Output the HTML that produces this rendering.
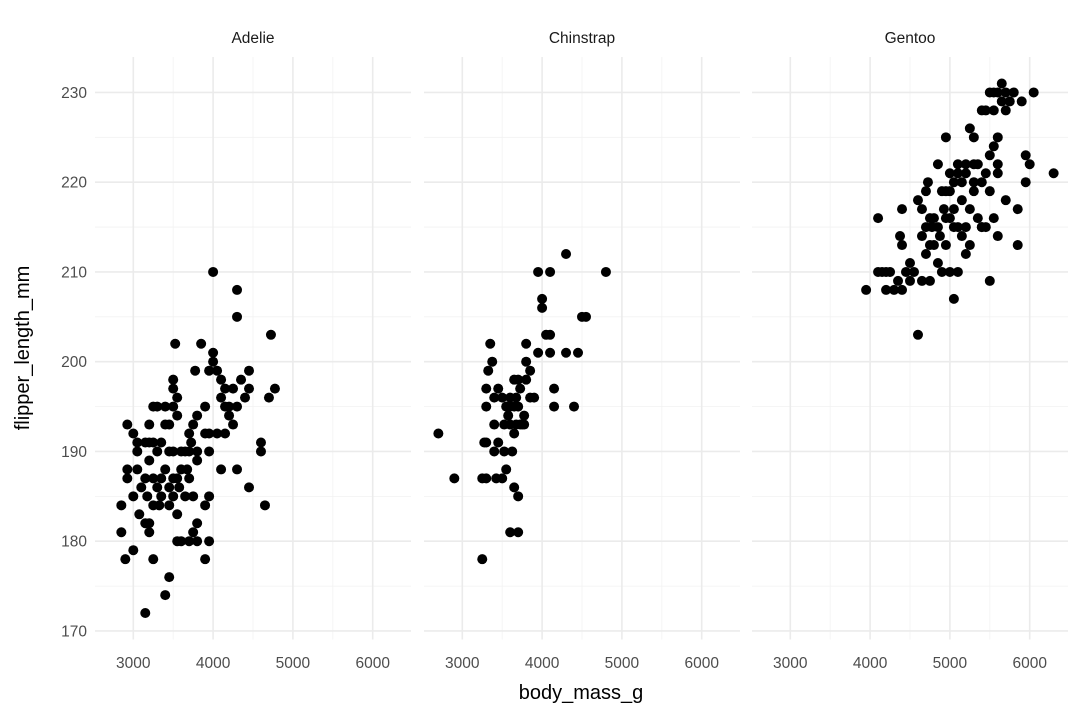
<!DOCTYPE html>
<html><head><meta charset="utf-8"><style>
html,body{margin:0;padding:0;background:#fff;}
svg{display:block;font-family:"Liberation Sans",Arial,sans-serif;}
</style></head><body>
<svg id="chart" width="1080" height="720"></svg>
<script>
const species = ["Adelie","Chinstrap","Gentoo"];
const xTicks = [3000,4000,5000,6000];
const yTicks = [170,180,190,200,210,220,230];
const adelieMass = [2850,2850,2900,2925,2925,2925,3000,3000,3000,3050,3050,3050,3075,3100,3150,3150,3150,3150,3175,3200,3200,3200,3200,3250,3250,3250,3250,3300,3300,3300,3325,3350,3350,3400,3400,3400,3400,3450,3450,3450,3450,3500,3500,3500,3500,3525,3550,3550,3550,3550,3550,3575,3600,3600,3650,3650,3700,3700,3700,3725,3750,3750,3775,3800,3800,3800,3800,3850,3900,3900,3950,3950,3950,3950,4000,4000,4000,4050,4050,4100,4100,4150,4200,4200,4250,4250,4300,4300,4300,4350,4400,4450,4450,4600,4600,4650,4700,4725,4775,4300,3900,3500,3200,3700,3600,3800,3450,3250,3350,3750,3900,4100,4150,3675,3500,3950,4450,4150];
const adelieFlipper = [184,181,178,188,187,193,192,185,179,191,190,188,183,186,191,187,182,172,185,181,182,189,193,195,178,191,187,195,186,190,184,187,191,195,193,174,188,176,184,193,186,198,197,185,190,202,196,194,180,187,183,186,180,190,190,185,190,187,180,191,181,193,199,194,190,182,180,202,195,178,185,180,190,192,210,201,200,199,192,188,196,197,195,194,193,197,208,205,188,198,196,186,199,191,190,184,196,203,197,195,192,187,191,192,188,189,190,184,185,185,184,198,192,188,195,199,197,195];
const chinMass = [2700,2900,3250,3250,3300,3275,3300,3300,3325,3350,3375,3400,3400,3450,3450,3500,3525,3550,3550,3600,3600,3600,3650,3650,3650,3675,3700,3700,3700,3725,3750,3775,3800,3800,3850,3900,3950,3950,4000,4000,4050,4100,4100,4100,4150,4150,4300,4300,4400,4450,4500,4550,4800,3675,3725,3525,3775,3400,3600,3650,3500,3625,3800,3700,3575,3425,3300,3850];
const chinFlipper = [192,187,187,178,187,191,197,195,199,202,200,190,193,197,191,196,190,195,188,196,193,181,198,195,186,193,181,185,198,197,193,194,202,198,199,196,210,201,207,206,203,210,201,203,197,195,212,201,195,201,205,205,210,196,193,193,193,196,195,192,187,190,200,195,194,187,191,196];
const gentooMass = [3950,4100,4100,4150,4200,4200,4250,4300,4350,4375,4400,4400,4400,4450,4500,4500,4550,4600,4600,4650,4650,4700,4700,4700,4725,4750,4750,4750,4775,4800,4850,4850,4875,4900,4900,4950,4950,5000,5000,5050,5050,5050,5100,5100,5150,5200,5250,5250,5300,5300,5350,5400,5400,5400,5450,5450,5500,5500,5550,5550,5550,5600,5600,5650,5650,5700,5700,5750,5800,5850,5850,5900,5950,6000,6050,6300,5550,5600,5000,5150,5200,5100,5300,5350,5200,4925,4850,5500,5600,5950,5450,5250,5150,4650,4950,5100,5400,5000,5300,4800,5700,5500,5200,5600,4950,5050];
const gentooFlipper = [208,216,210,210,210,208,210,208,209,214,217,213,208,210,211,209,210,203,218,214,209,219,215,212,220,216,213,209,215,216,222,215,214,219,210,225,216,221,219,220,207,215,221,215,218,215,226,213,220,225,222,228,220,215,228,221,219,209,224,216,228,222,225,231,229,230,218,229,230,217,213,229,223,222,230,221,230,230,210,214,212,222,222,216,221,217,211,223,221,220,215,217,220,217,219,210,215,216,219,213,228,230,222,214,213,217];
const massSeries = [adelieMass, chinMass, gentooMass];
const flipSeries = [adelieFlipper, chinFlipper, gentooFlipper];

const NS = "http://www.w3.org/2000/svg";
const svg = document.getElementById("chart");
const panelLeft = [95, 424, 752], panelW = 316;
const xMin = 2520, xMax = 6480, yMin = 169.05, yMax = 233.95, plotTop = 57, plotBottom = 639.5;
function xs(p, v){ return panelLeft[p] + (v - xMin) / (xMax - xMin) * panelW; }
function ys(v){ return plotBottom - (v - yMin) / (yMax - yMin) * (plotBottom - plotTop); }
function mk(tag, attrs, parent){ const e = document.createElementNS(NS, tag); for (const k in attrs) e.setAttribute(k, attrs[k]); (parent||svg).appendChild(e); return e; }

species.forEach((sp, p) => {
  const g = mk("g", {});
  
  
  const x0 = panelLeft[p], x1 = x0 + panelW;
  [175,185,195,205,215,225].forEach(v => { const l = mk("line", {x1:x0, x2:x1, y1:ys(v), y2:ys(v), stroke:"#f2f2f2", "stroke-width":0.8}, g);
      });
  [3500,4500,5500].forEach(v => { const l = mk("line", {x1:xs(p,v), x2:xs(p,v), y1:plotTop, y2:plotBottom, stroke:"#f2f2f2", "stroke-width":0.8}, g);
      });
  yTicks.forEach(v => { const l = mk("line", {x1:x0, x2:x1, y1:ys(v), y2:ys(v), stroke:"#ebebeb", "stroke-width":1.6}, g);
      });
  xTicks.forEach(v => { const l = mk("line", {x1:xs(p,v), x2:xs(p,v), y1:plotTop, y2:plotBottom, stroke:"#ebebeb", "stroke-width":1.6}, g);
     
    const t = mk("text", {x:xs(p,v), y:668, "text-anchor":"middle", "font-size":15.5, fill:"#4d4d4d"}, g);
    t.textContent = v;
      });
  const st = mk("text", {x:(x0+x1)/2, y:43, "text-anchor":"middle", "font-size":15.5, fill:"#1a1a1a"}, g);
  st.textContent = sp;
   
  const ms = massSeries[p], fs = flipSeries[p];
  for (let i = 0; i < ms.length; i++) {
    const c = mk("circle", {cx:xs(p, ms[i]), cy:ys(fs[i]), r:5, fill:"#000"}, g);
     
  }
});
yTicks.forEach(v => { const t = mk("text", {x:87, y:ys(v)+5.5, "text-anchor":"end", "font-size":15.5, fill:"#4d4d4d"});
  t.textContent = v;
    });
const xt = mk("text", {x:581, y:699, "text-anchor":"middle", "font-size":20, fill:"#000"});
xt.textContent = "body_mass_g";
 
const yt = mk("text", {x:0, y:0, "text-anchor":"middle", "font-size":20, fill:"#000", transform:"translate(29,348) rotate(-90)"});
yt.textContent = "flipper_length_mm";
 
</script>
</body></html>
